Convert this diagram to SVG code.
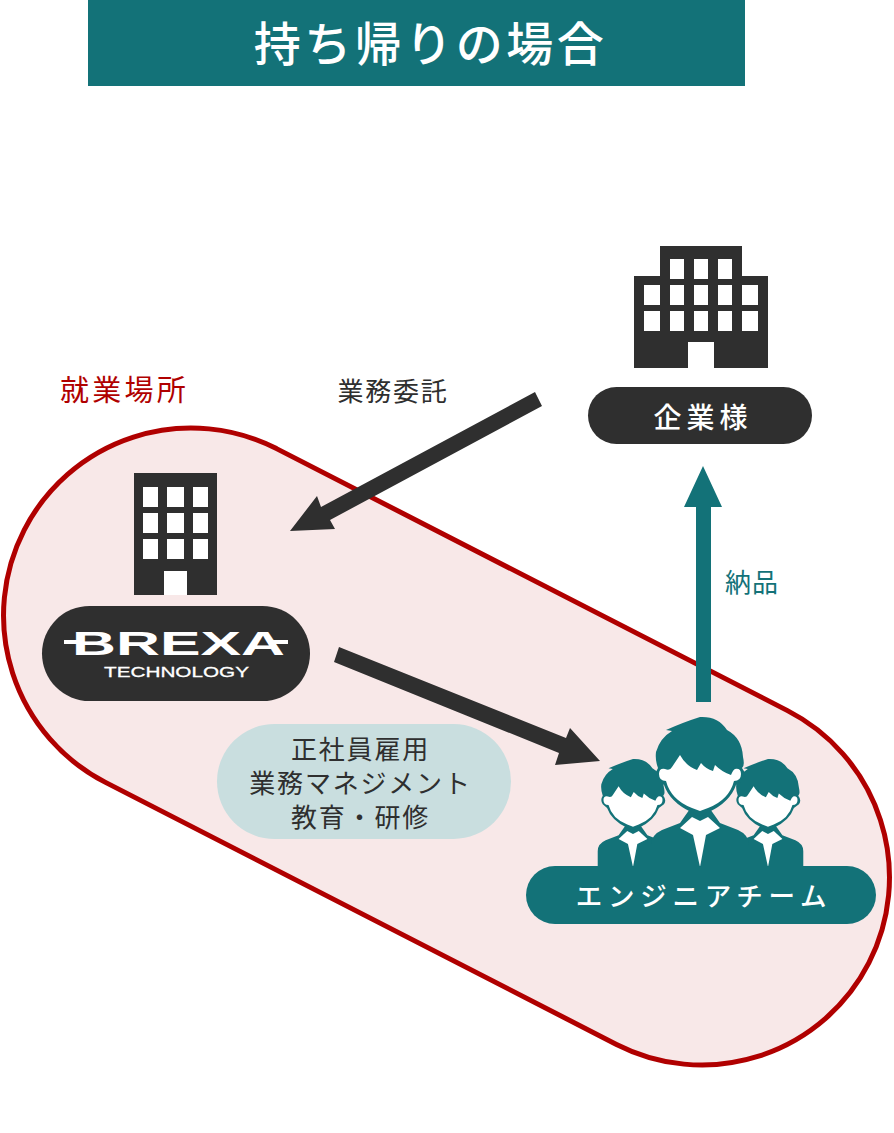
<svg xmlns="http://www.w3.org/2000/svg" xmlns:xlink="http://www.w3.org/1999/xlink" width="894" height="1133" viewBox="0 0 894 1133">
<style>
text{font-family:"Noto Sans CJK JP","Noto Sans",sans-serif;text-anchor:middle}
text.logo{font-family:"Liberation Sans",sans-serif}
.dark{fill:#2f2f2f}.teal{fill:#137278}.w{fill:#fff}
.lab{font-size:26px}.pill{fill:#fff;font-size:28px;font-weight:500}
.mid{fill:#2f2f2f;font-size:26px;letter-spacing:1.800px}
</style>
<defs>
<g id="person">
<path class="teal" d="M651 867V845Q651 835 662 830L680 823L692 806L708 806L720 823L738 830Q749 835 749 845V867Z"/>
<path class="w" d="M680 828L692 817L700 821L708 817L720 828L706 835L700 867L693 835Z"/>
<path class="teal" d="M656 752Q660 738 672 731L666 730Q684 722 700 717Q718 716 727 730Q742 738 743 757Q745 766 742 768Q747 774 743 780L736 785Q730 802 709 812L700 816L691 812Q670 802 664 785L658 780Q654 774 658 768Q655 760 656 752Z"/>
<path class="w" d="M672 767L680 755Q686 766 697 770L701 763Q706 769 713 771L715 765Q722 772 731 775Q733 770 735 769Q741 768 741 774Q741 781 734 781Q729 800 708 808L700 811L692 808Q671 800 666 781Q659 781 659 774Q659 768 665 769Q670 771 672 767Z"/>
</g>
</defs>
<rect id="title-bar" class="teal" x="88" y="0" width="657" height="86"/>
<text x="430.500" y="61" fill="#fff" font-size="47" font-weight="500" letter-spacing="3.500">持ち帰りの場合</text>

<g id="workplace">
<path d="M276.500 448.600L787.500 710.600A187 187 0 0 1 616.500 1044.400L105.500 782.400A187 187 0 0 1 276.500 448.600Z" fill="#f8e8e8" stroke="#b00000" stroke-width="5"/>
<text x="124.500" y="401" fill="#b00000" font-size="29" letter-spacing="3.300">就業場所</text>
</g>

<g id="connectors">
<path class="dark" d="M535 392L542 406L330 520L335 529L290 531L317 496L321 507Z"/>
<text class="lab" x="393" y="401" fill="#2f2f2f" letter-spacing="1.800">業務委託</text>
<path class="dark" d="M339 647L334 662L559 753L555 765L600 761L570 728L566 738Z"/>
<path class="teal" d="M696 702V507H684L703 466L722 507H711V702Z"/>
<text class="lab" x="752" y="592" fill="#137278" letter-spacing="1">納品</text>
</g>

<g id="client">
<path class="dark" d="M660 246H742V276H768V368H634V276H660Z"/>
<path class="w" d="M670 259h14v20h-14zM694 259h14v20h-14zM718 259h14v20h-14zM670 285h14v20h-14zM694 285h14v20h-14zM718 285h14v20h-14zM670 311h14v20h-14zM694 311h14v20h-14zM718 311h14v20h-14zM644 285h16v20h-16zM644 311h16v20h-16zM742 285h16v20h-16zM742 311h16v20h-16zM688 342h26v26h-26z"/>
<rect class="dark" x="588" y="387" width="224" height="57" rx="28.500"/>
<text class="pill" x="703" y="428" letter-spacing="5">企業様</text>
</g>

<g id="brexa">
<rect class="dark" x="134" y="473" width="83" height="122"/>
<path class="w" d="M143 487h15v20h-15zM167 487h17v20h-17zM193 487h15v20h-15zM143 513h15v20h-15zM167 513h17v20h-17zM193 513h15v20h-15zM143 539h15v20h-15zM167 539h17v20h-17zM193 539h15v20h-15zM164 571h23v24h-23z"/>
<rect class="dark" x="42" y="606" width="268" height="95" rx="47.500"/>
<text class="logo" x="178.500" y="655" fill="#fff" font-size="34" font-weight="700" textLength="213" lengthAdjust="spacingAndGlyphs">BREXA</text>
<path d="M64 642H80M268 642H288" stroke="#fff" stroke-width="4"/>
<text class="logo" x="176.500" y="677" fill="#fff" font-size="15.500" textLength="145" lengthAdjust="spacingAndGlyphs" stroke="#fff" stroke-width=".3">TECHNOLOGY</text>
</g>

<g id="hr-note">
<rect x="217" y="724" width="294" height="115" rx="57.500" fill="#c9dedf"/>
<text class="mid" x="360.500" y="759">正社員雇用</text>
<text class="mid" x="360.500" y="793">業務マネジメント</text>
<text class="mid" x="360.500" y="827">教育・研修</text>
</g>

<g id="engineers">
<use xlink:href="#person" href="#person" transform="translate(633 867) scale(.72) translate(-700 -867)"/>
<use xlink:href="#person" href="#person" transform="translate(768 867) scale(.72) translate(-700 -867)"/>
<use xlink:href="#person" href="#person"/>
<rect class="teal" x="526" y="866" width="350" height="58" rx="29"/>
<text x="704" y="906" fill="#fff" font-size="26.500" font-weight="500" letter-spacing="5.700">エンジニアチーム</text>
</g>
</svg>
